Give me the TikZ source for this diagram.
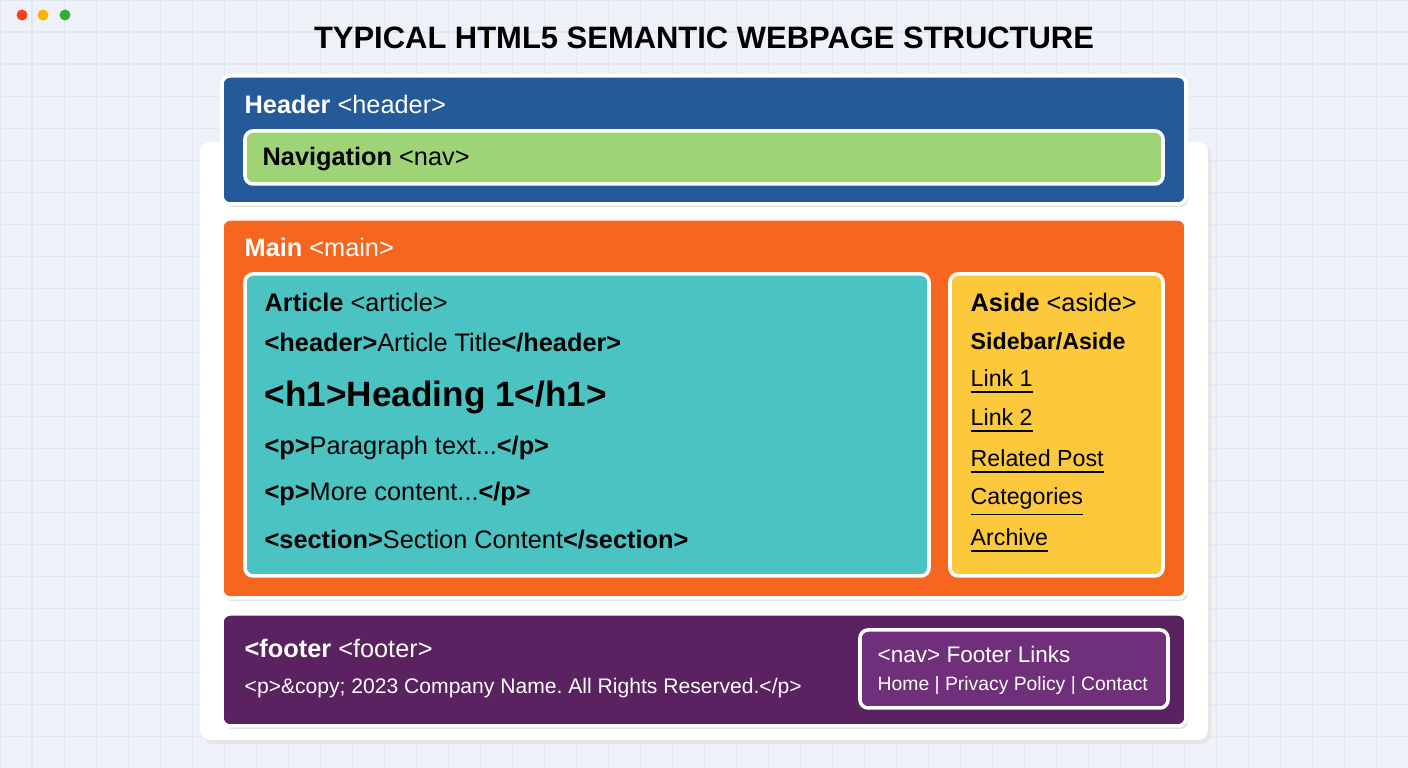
\documentclass[tikz,border=0pt]{standalone}
\usepackage{fontspec}
\setmainfont{Liberation Sans}
\usetikzlibrary{positioning}
\frenchspacing
\definecolor{pageBg}{HTML}{EEF2F8}
\definecolor{gridC}{HTML}{E1E7F0}
\definecolor{headerB}{HTML}{245A9A}
\definecolor{navG}{HTML}{9ED475}
\definecolor{mainO}{HTML}{F7661F}
\definecolor{articleT}{HTML}{4CC3C3}
\definecolor{asideY}{HTML}{FCC93D}
\definecolor{footerP}{HTML}{5A2260}
\definecolor{footNavP}{HTML}{6F2F7A}
\tikzset{
  box/.style = {draw = white, line width = 1pt, rounded corners = 0.08cm},
  label/.style = {anchor = west, inner sep = 0pt, font = \fontsize{7.2pt}{8pt}\selectfont},
  small/.style = {anchor = west, inner sep = 0pt, font = \fontsize{6pt}{7pt}\selectfont},
}
\begin{document}
\begin{tikzpicture}[x = 0.01cm, y = -0.01cm]
  \useasboundingbox (0, 0) rectangle (1408, 768);

  % ------------------------
  % page background
  % ------------------------
  \fill[pageBg] (0, 0) rectangle (1408, 768);
  \draw[gridC, line width = 0.3pt, step = 0.32cm] (0, 0) grid (1408, 768);
  \fill[red!70!orange!90] (22, 15) circle (5.5);
  \fill[orange!60!yellow] (43, 15) circle (5.5);
  \fill[green!60!black!80] (65, 15) circle (5.5);

  \node[font = \fontsize{8.8pt}{10pt}\selectfont\bfseries] (title) at (704, 38)
    {TYPICAL HTML5 SEMANTIC WEBPAGE STRUCTURE};

  % white panel
  \fill[black!10, rounded corners = 0.1cm] (203, 146) rectangle (1211, 744);
  \fill[white, rounded corners = 0.1cm] (200, 142) rectangle (1208, 740);

  % ------------------------
  % header
  % ------------------------
  \fill[black!12, rounded corners = 0.08cm] (224, 79) rectangle (1188, 207);
  \draw[box, fill = headerB] (222, 76) rectangle (1186, 204);
  \node[label, text = white] (headerL) at (244, 104) {\textbf{Header} <header>};
  \draw[box, fill = navG] (245, 131) rectangle (1163, 184);
  \node[label] (navL) at (262, 159) {\textbf{Navigation} <nav>};

  % ------------------------
  % main
  % ------------------------
  \fill[black!12, rounded corners = 0.08cm] (224, 222) rectangle (1188, 601);
  \draw[box, fill = mainO] (222, 219) rectangle (1186, 598);
  \node[label, text = white] (mainL) at (244, 247) {\textbf{Main} <main>};

  \draw[box, fill = articleT] (245, 274) rectangle (929, 576);
  \node[label] (articleL) at (264, 302) {\textbf{Article} <article>};
  \node[label] (artHead) at (264, 343) {\textbf{<header>}Article Title\textbf{</header>}};
  \node[label, font = \fontsize{10pt}{11pt}\selectfont\bfseries] (artH1) at (264, 397) {<h1>Heading 1</h1>};
  \node[label] (artP1) at (264, 448) {\textbf{<p>}Paragraph text...\textbf{</p>}};
  \node[label] (artP2) at (264, 494) {\textbf{<p>}More content...\textbf{</p>}};
  \node[label] (artSec) at (264, 540) {\textbf{<section>}Section Content\textbf{</section>}};

  \draw[box, fill = asideY] (950, 274) rectangle (1163, 576);
  \node[label] (asideL) at (970, 302) {\textbf{Aside} <aside>};
  \node[label, font = \fontsize{6.6pt}{7pt}\selectfont\bfseries] (asideSub) at (970, 341) {Sidebar/Aside};
  \node[label, font = \fontsize{6.6pt}{7pt}\selectfont] (link1) at (970, 382) {\underline{Link 1}};
  \node[label, font = \fontsize{6.6pt}{7pt}\selectfont] (link2) at (970, 421) {\underline{Link 2}};
  \node[label, font = \fontsize{6.6pt}{7pt}\selectfont] (link3) at (970, 462) {\underline{Related Post}};
  \node[label, font = \fontsize{6.6pt}{7pt}\selectfont] (link4) at (970, 502) {\underline{Categories}};
  \node[label, font = \fontsize{6.6pt}{7pt}\selectfont] (link5) at (970, 541) {\underline{Archive}};

  % ------------------------
  % footer
  % ------------------------
  \fill[black!12, rounded corners = 0.08cm] (224, 617) rectangle (1188, 729);
  \draw[box, fill = footerP] (222, 614) rectangle (1186, 726);
  \node[label, text = white] (footerL) at (244, 648) {\textbf{<footer} <footer>};
  \node[small, text = white] (footerP) at (244, 688) {<p>\&copy; 2023 Company Name. All Rights Reserved.</p>};
  \draw[box, fill = footNavP] (860, 630) rectangle (1168, 708);
  \node[small, text = white, font = \fontsize{6.4pt}{7pt}\selectfont] (fnavL) at (877, 654) {<nav> Footer Links};
  \node[small, text = white, font = \fontsize{5.5pt}{6pt}\selectfont] (fnavLinks) at (877, 686) {Home | Privacy Policy | Contact};
\end{tikzpicture}
\end{document}
